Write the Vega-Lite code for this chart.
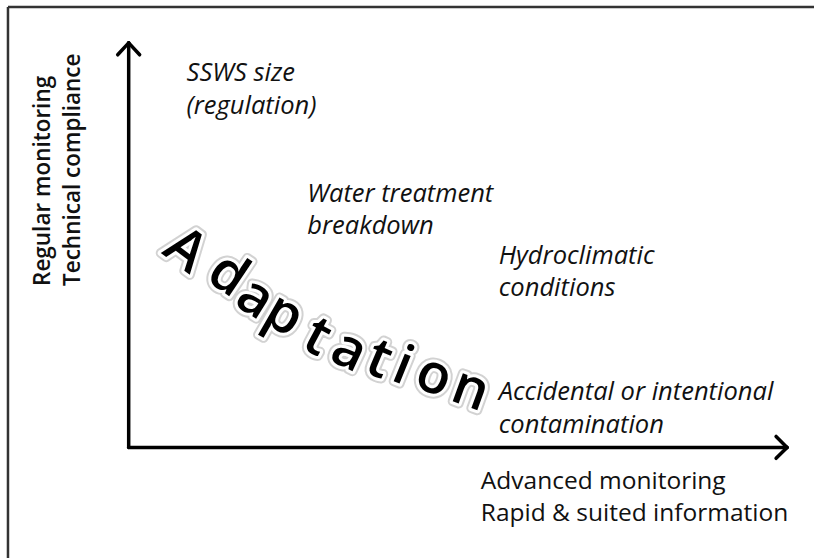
{
  "$schema": "https://vega.github.io/schema/vega-lite/v6.json",
  "width": 816,
  "height": 560,
  "padding": 0,
  "autosize": {"type": "fit", "contains": "padding"},
  "background": "white",
  "config": {"view": {"stroke": null}},
  "datasets": {
    "frame": [
      {"x": 1, "y": 69.125, "x2": 102, "y2": 69.125},
      {"x": 1, "y": 69.125, "x2": 1, "y2": 0}
    ],
    "arrows": [
      {"x": 16.125, "y": 13.875, "x2": 16.125, "y2": 64.625},
      {"x": 16.125, "y": 13.875, "x2": 98.625, "y2": 13.875},
      {"x": 14.75, "y": 63.125, "x2": 16.125, "y2": 64.625},
      {"x": 17.5, "y": 63.125, "x2": 16.125, "y2": 64.625},
      {"x": 97.25, "y": 15.25, "x2": 98.625, "y2": 13.875},
      {"x": 97.25, "y": 12.5, "x2": 98.625, "y2": 13.875}
    ],
    "italic": [
      {"x": 23.375, "y": 59.8, "text": "SSWS size"},
      {"x": 23.375, "y": 55.7, "text": "(regulation)"},
      {"x": 38.5, "y": 44.625, "text": "Water treatment"},
      {"x": 38.5, "y": 40.625, "text": "breakdown"},
      {"x": 62.5, "y": 36.875, "text": "Hydroclimatic"},
      {"x": 62.5, "y": 32.875, "text": "conditions"},
      {"x": 62.5, "y": 19.8, "text": "Accidental or intentional"},
      {"x": 62.5, "y": 15.7, "text": "contamination"}
    ],
    "xlabel": [
      {"x": 60.25, "y": 8.7, "text": "Advanced monitoring"},
      {"x": 60.25, "y": 4.7, "text": "Rapid & suited information"}
    ],
    "ylabel": [
      {"x": 6.25, "y": 34.125, "text": "Regular monitoring"},
      {"x": 10, "y": 34.125, "text": "Technical compliance"}
    ],
    "adaptation": [
      {"x": 23.25, "y": 38.6, "ch": "A", "angle": 37},
      {"x": 28.6, "y": 35.5, "ch": "d", "angle": 34},
      {"x": 32.0, "y": 32.6, "ch": "a", "angle": 32},
      {"x": 35.6, "y": 30.5, "ch": "p", "angle": 30},
      {"x": 39.75, "y": 27.7, "ch": "t", "angle": 28},
      {"x": 43.75, "y": 26.0, "ch": "a", "angle": 25},
      {"x": 47.5, "y": 24.9, "ch": "t", "angle": 23},
      {"x": 50.5, "y": 24.0, "ch": "i", "angle": 22},
      {"x": 54.4, "y": 22.8, "ch": "o", "angle": 21},
      {"x": 59.0, "y": 21.1, "ch": "n", "angle": 20}
    ]
  },
  "layer": [
    {
      "data": {"name": "frame"},
      "mark": {"type": "rule", "stroke": "#333333", "strokeWidth": 2.5},
      "encoding": {
        "x": {"field": "x", "type": "quantitative", "scale": {"domain": [0, 102], "nice": false, "zero": false}, "axis": null},
        "y": {"field": "y", "type": "quantitative", "scale": {"domain": [0, 70], "nice": false, "zero": false}, "axis": null},
        "x2": {"field": "x2"},
        "y2": {"field": "y2"}
      }
    },
    {
      "data": {"name": "arrows"},
      "mark": {"type": "rule", "stroke": "black", "strokeWidth": 3.5, "strokeCap": "round"},
      "encoding": {
        "x": {"field": "x", "type": "quantitative"},
        "y": {"field": "y", "type": "quantitative"},
        "x2": {"field": "x2"},
        "y2": {"field": "y2"}
      }
    },
    {
      "data": {"name": "italic"},
      "mark": {"type": "text", "font": "Open Sans", "fontStyle": "italic", "fontSize": 25.5, "align": "left", "baseline": "alphabetic", "color": "#111111"},
      "encoding": {
        "x": {"field": "x", "type": "quantitative"},
        "y": {"field": "y", "type": "quantitative"},
        "text": {"field": "text"}
      }
    },
    {
      "data": {"name": "xlabel"},
      "mark": {"type": "text", "font": "Open Sans", "fontSize": 24.5, "align": "left", "baseline": "alphabetic", "color": "#111111"},
      "encoding": {
        "x": {"field": "x", "type": "quantitative"},
        "y": {"field": "y", "type": "quantitative"},
        "text": {"field": "text"}
      }
    },
    {
      "data": {"name": "ylabel"},
      "mark": {"type": "text", "font": "Open Sans", "fontWeight": 600, "fontSize": 22.5, "align": "left", "baseline": "alphabetic", "angle": 270, "color": "#111111"},
      "encoding": {
        "x": {"field": "x", "type": "quantitative"},
        "y": {"field": "y", "type": "quantitative"},
        "text": {"field": "text"}
      }
    },
    {
      "data": {"name": "adaptation"},
      "mark": {"type": "text", "font": "Open Sans", "fontWeight": 600, "fontSize": 55, "align": "center", "baseline": "middle", "fill": "#c8c8c8", "stroke": "#c8c8c8", "strokeWidth": 10, "strokeJoin": "round", "opacity": 0.8},
      "encoding": {
        "x": {"field": "x", "type": "quantitative"},
        "y": {"field": "y", "type": "quantitative"},
        "text": {"field": "ch"},
        "angle": {"field": "angle", "type": "quantitative", "scale": null}
      }
    },
    {
      "data": {"name": "adaptation"},
      "mark": {"type": "text", "font": "Open Sans", "fontWeight": 600, "fontSize": 55, "align": "center", "baseline": "middle", "fill": "white", "stroke": "white", "strokeWidth": 6, "strokeJoin": "round"},
      "encoding": {
        "x": {"field": "x", "type": "quantitative"},
        "y": {"field": "y", "type": "quantitative"},
        "text": {"field": "ch"},
        "angle": {"field": "angle", "type": "quantitative", "scale": null}
      }
    },
    {
      "data": {"name": "adaptation"},
      "mark": {"type": "text", "font": "Open Sans", "fontWeight": 600, "fontSize": 55, "align": "center", "baseline": "middle", "fill": "black"},
      "encoding": {
        "x": {"field": "x", "type": "quantitative"},
        "y": {"field": "y", "type": "quantitative"},
        "text": {"field": "ch"},
        "angle": {"field": "angle", "type": "quantitative", "scale": null}
      }
    }
  ]
}
